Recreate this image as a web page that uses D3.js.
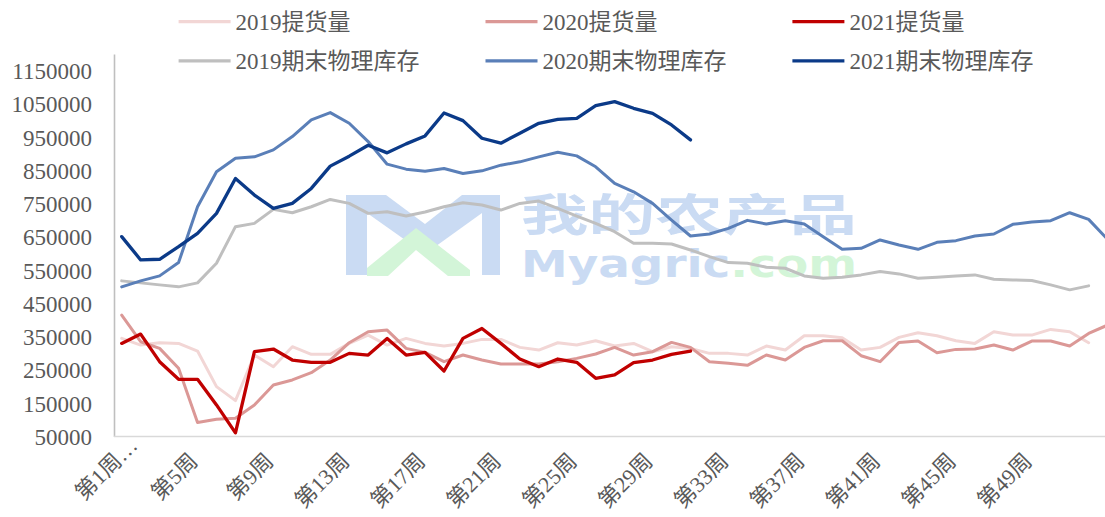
<!DOCTYPE html>
<html lang="zh">
<head>
<meta charset="utf-8">
<script src="https://d3js.org/d3.v7.min.js"></script>
<style>
body { margin: 0; background: #fff; }
svg { display: block; }
.lbl { font-family: "Liberation Serif", "Noto Sans CJK SC", serif; fill: #595959; font-size: 23px; }
.xlbl { font-size: 22px; }
</style>
</head>
<body>
<div id="chart"></div>
<script>
// categories
var weeks = d3.range(1, 54);
var tickWeeks = [1, 5, 9, 13, 17, 21, 25, 29, 33, 37, 41, 45, 49];
var tickLabels = ["第1周…", "第5周", "第9周", "第13周", "第17周", "第21周", "第25周",
                  "第29周", "第33周", "第37周", "第41周", "第45周", "第49周"];
var yTicks = [50000, 150000, 250000, 350000, 450000, 550000, 650000, 750000, 850000, 950000, 1050000, 1150000];

// series
var pick2019 = [345000, 325000, 332000, 330000, 307000, 200000, 158000, 295000, 260000, 320000,
                297000, 297000, 330000, 355000, 325000, 345000, 330000, 322000, 330000, 342000,
                342000, 318000, 310000, 332000, 325000, 338000, 322000, 330000, 305000, 320000,
                315000, 300000, 300000, 295000, 322000, 310000, 353000, 353000, 347000, 310000,
                318000, 348000, 362000, 353000, 338000, 330000, 365000, 355000, 355000, 372000,
                365000, 332000];
var pick2020 = [415000, 335000, 315000, 255000, 92000, 102000, 105000, 145000, 205000, 220000,
                242000, 280000, 332000, 365000, 370000, 315000, 303000, 275000, 295000, 280000,
                268000, 268000, 268000, 275000, 285000, 298000, 318000, 295000, 305000, 333000,
                318000, 275000, 270000, 264000, 295000, 280000, 318000, 338000, 338000, 293000,
                275000, 333000, 337000, 302000, 312000, 313000, 325000, 310000, 337000, 337000,
                322000, 360000, 385000];
var pick2021 = [330000, 358000, 275000, 222000, 222000, 145000, 61000, 305000, 313000, 280000,
                273000, 273000, 300000, 295000, 345000, 295000, 303000, 247000, 345000, 375000,
                330000, 283000, 260000, 283000, 273000, 225000, 235000, 272000, 280000, 297000,
                307000];
var inv2019 = [518000, 512000, 506000, 500000, 512000, 571000, 681000, 691000, 733000, 723000,
               741000, 763000, 751000, 721000, 726000, 713000, 725000, 741000, 753000, 746000,
               731000, 751000, 758000, 736000, 713000, 691000, 666000, 631000, 631000, 629000,
               611000, 591000, 573000, 571000, 559000, 556000, 533000, 526000, 529000, 536000,
               546000, 539000, 526000, 529000, 533000, 536000, 523000, 521000, 519000, 506000,
               491000, 503000];
var inv2020 = [500000, 518000, 533000, 573000, 741000, 846000, 887000, 891000, 912000, 952000,
               1002000, 1024000, 992000, 937000, 869000, 854000, 848000, 856000, 841000, 849000,
               866000, 876000, 891000, 905000, 894000, 861000, 811000, 786000, 751000, 701000,
               653000, 659000, 676000, 700000, 689000, 699000, 689000, 651000, 613000, 616000,
               641000, 626000, 613000, 634000, 639000, 653000, 659000, 688000, 695000, 699000,
               723000, 703000, 643000];
var inv2021 = [651000, 581000, 583000, 621000, 661000, 721000, 826000, 776000, 736000, 751000,
               796000, 863000, 893000, 926000, 903000, 930000, 954000, 1023000, 1000000, 947000,
               932000, 962000, 992000, 1004000, 1007000, 1045000, 1057000, 1037000, 1022000, 987000,
               942000];

var seriesNames = ["2019提货量", "2020提货量", "2021提货量", "2019期末物理库存", "2020期末物理库存", "2021期末物理库存"];
var seriesColors = ["#f2d6d5", "#db9896", "#c00000", "#bfbfbf", "#5a7fb8", "#0b3a88"];
var seriesValues = [pick2019, pick2020, pick2021, inv2019, inv2020, inv2021];

var width = 1105, height = 517;
var plotLeft = 114;

var svg = d3.select("#chart").append("svg")
  .attr("width", width)
  .attr("height", height);

var x = d3.scalePoint().domain(weeks).range([121.7, 1107.6]);
var y = d3.scaleLinear().domain([50000, 1200000]).range([436.5, 54.1]);

// watermark (logo + site name)
var wm = svg.append("g").attr("class", "watermark");
wm.append("path")
  .attr("d", "M346,195 L386,195 L425,224 L462,195 L500,195 L500,275 L482,275 L482,213 L425,254 L367,213 L367,275 L346,275 Z")
  .attr("fill", "#cadbf3");
wm.append("path")
  .attr("d", "M367,268 L416,228 L470,270 L470,276 L448,276 L416,250 L388,276 L367,276 Z")
  .attr("fill", "#d3f5d8");
wm.append("text")
  .attr("x", 521).attr("y", 231)
  .attr("textLength", 336).attr("lengthAdjust", "spacingAndGlyphs")
  .style("font-family", "'Noto Sans CJK SC'").style("font-weight", "bold")
  .style("font-size", "44px").attr("fill", "#cadbf3")
  .text("我的农产品");
var wm2 = wm.append("text")
  .attr("x", 521).attr("y", 277)
  .attr("textLength", 336).attr("lengthAdjust", "spacingAndGlyphs")
  .style("font-family", "'DejaVu Sans'").style("font-weight", "bold")
  .style("font-size", "37px");
wm2.append("tspan").attr("fill", "#cadbf3").text("Myagric");
wm2.append("tspan").attr("fill", "#d3f5d8").text(".com");

// y axis
var yAxis = svg.append("g")
  .attr("transform", "translate(" + plotLeft + ",0)")
  .call(d3.axisLeft(y).tickValues(yTicks).tickSize(0).tickSizeOuter(0).tickPadding(22)
        .tickFormat(d3.format("d")));
yAxis.select(".domain").attr("stroke", "#bfbfbf").attr("stroke-width", 1.6);
yAxis.selectAll("text").attr("class", "lbl").attr("fill", null).attr("dy", "0.34em");

// x axis
var xAxis = svg.append("g")
  .attr("transform", "translate(0," + y(50000) + ")")
  .call(d3.axisBottom(x).tickValues(tickWeeks).tickSize(0)
        .tickFormat(function(d) { return tickLabels[tickWeeks.indexOf(d)]; }));
xAxis.select(".domain").remove();
xAxis.append("line")
  .attr("x1", plotLeft).attr("x2", width)
  .attr("stroke", "#d9d9d9").attr("stroke-width", 1.6);
xAxis.selectAll(".tick text")
  .attr("class", "lbl xlbl").attr("fill", null)
  .attr("x", 0).attr("y", 0).attr("dy", null)
  .attr("dx", function(d) { return d === 1 ? "1em" : null; })
  .attr("text-anchor", "end")
  .attr("transform", "translate(1,26) rotate(-45)");

// lines
var line = d3.line()
  .x(function(d, i) { return x(weeks[i]); })
  .y(function(d) { return y(d); });

svg.append("g").selectAll("path")
  .data(seriesValues)
  .enter()
  .append("path")
  .attr("d", line)
  .attr("fill", "none")
  .attr("stroke", function(d, i) { return seriesColors[i]; })
  .attr("stroke-width", function(d, i) { return (i === 2 || i === 5) ? 3.3 : 3; })
  .attr("stroke-linejoin", "round")
  .attr("stroke-linecap", "round");

// legend, 3 columns x 2 rows
var legend = svg.append("g").selectAll("g")
  .data(seriesNames)
  .enter()
  .append("g")
  .attr("transform", function(d, i) {
    return "translate(" + (178.6 + (i % 3) * 306.9) + "," + (i < 3 ? 21.7 : 60.8) + ")";
  });
legend.append("line")
  .attr("x1", 0).attr("x2", 52)
  .attr("stroke", function(d, i) { return seriesColors[i]; })
  .attr("stroke-width", 3.3);
legend.append("text")
  .attr("class", "lbl")
  .attr("x", 57).attr("dy", "0.34em")
  .text(function(d) { return d; });
</script>
</body>
</html>
